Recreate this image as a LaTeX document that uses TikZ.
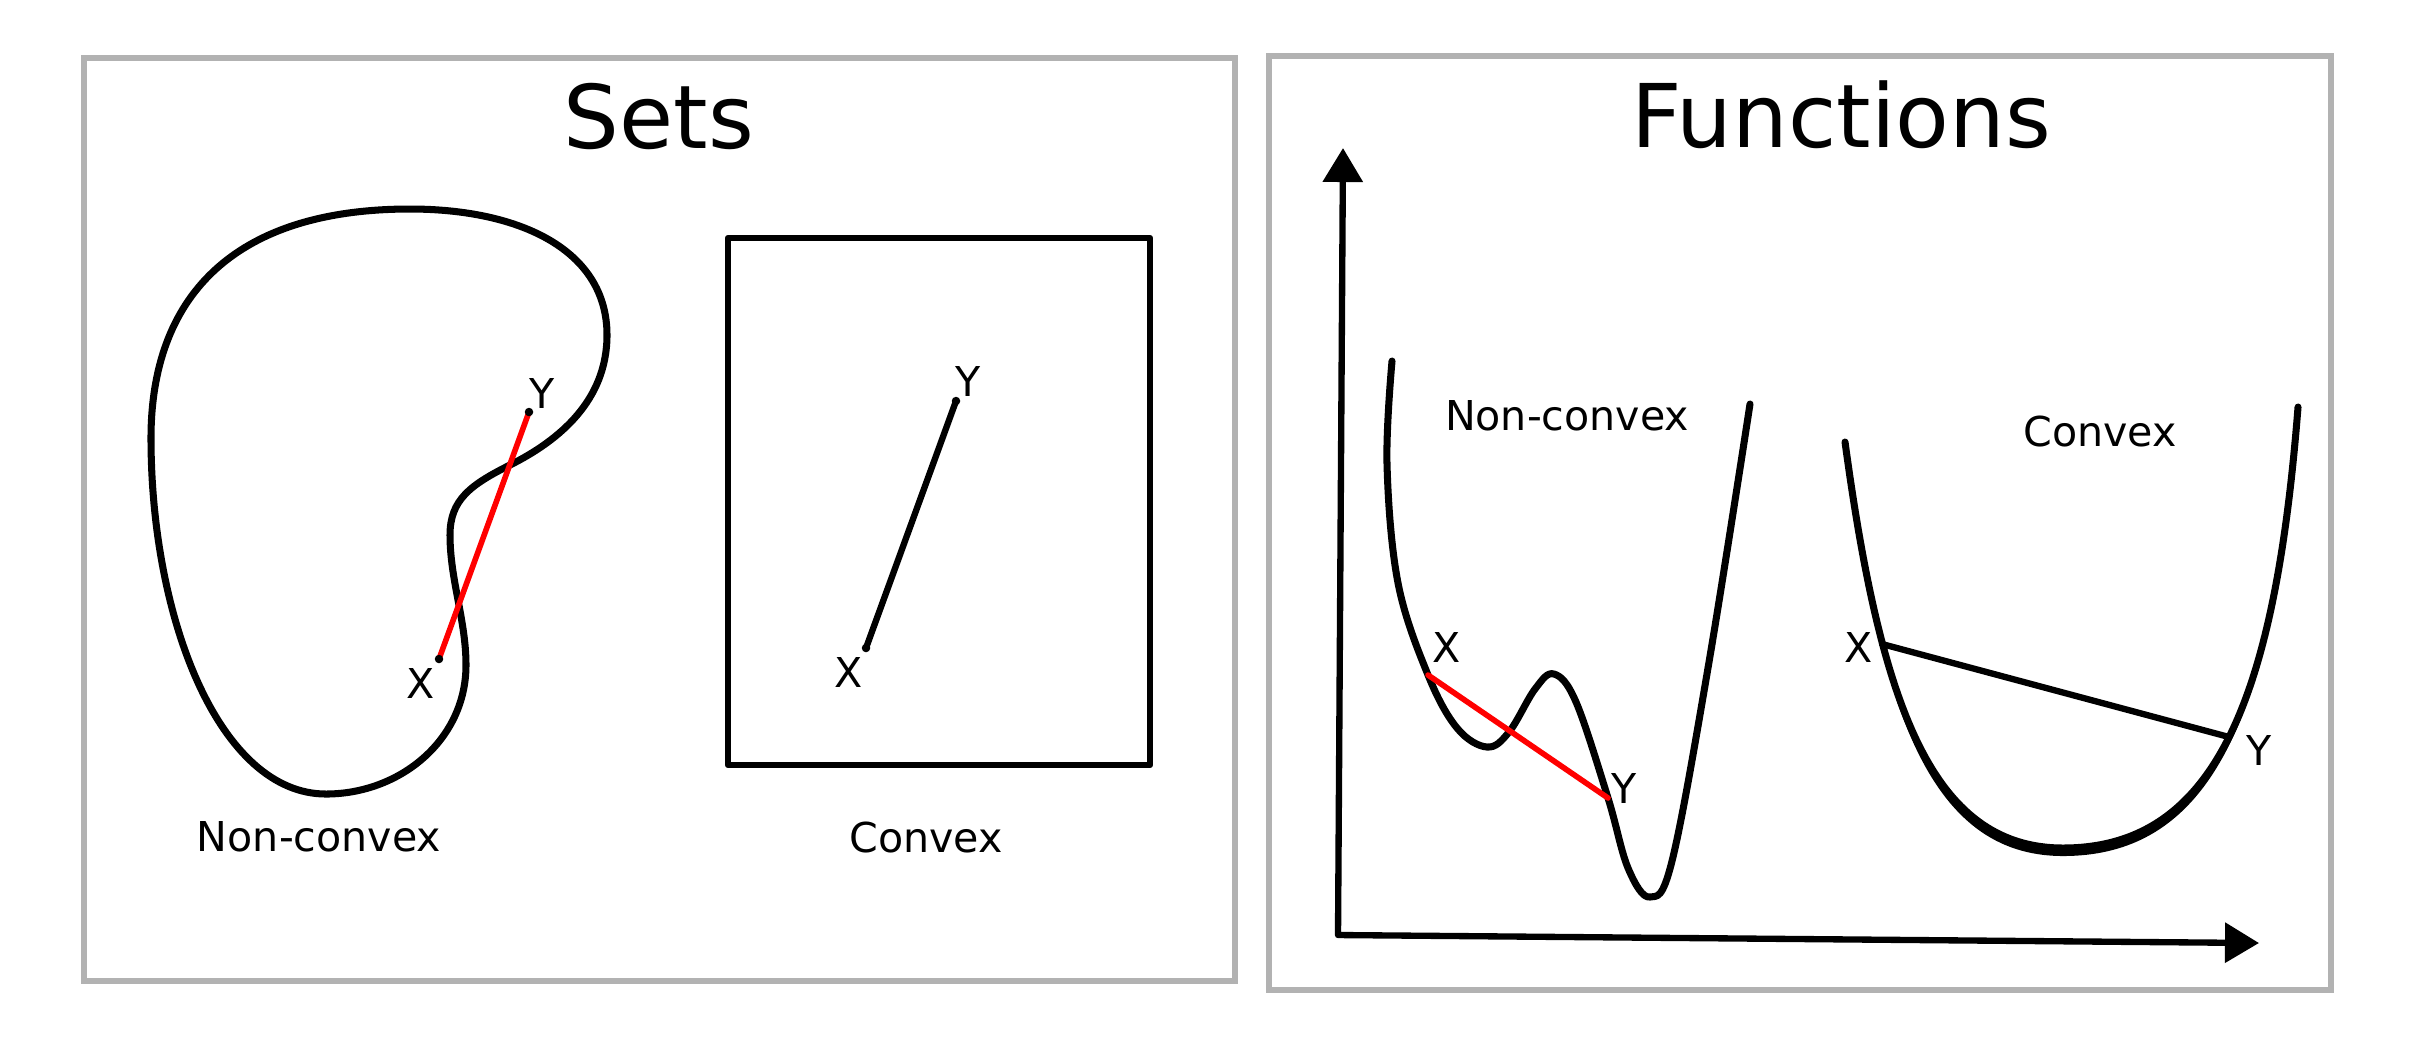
\documentclass[tikz,border=0pt]{standalone}
\usepackage{fontspec}
\setmainfont{DejaVu Sans}
\usetikzlibrary{arrows.meta}
\definecolor{PanelFrame}{gray}{0.70}
\definecolor{ChordRed}{RGB}{255,0,0}
\tikzset{
    convex/diagram/.style={
        x=0.01cm, y=-0.01cm,
        line cap=round,
        line join=round,
        every node/.style={inner sep=0pt, outer sep=0pt}
    },
    convex/panel/.style={draw=PanelFrame, line width=1.7pt, line cap=butt, line join=miter},
    convex/curve/.style={draw=black, line width=2.0pt},
    convex/frame/.style={draw=black, line width=1.8pt},
    convex/segment/.style={draw=black, line width=1.8pt},
    convex/chord/.style={draw=ChordRed, line width=1.6pt},
    convex/axis/.style={
        draw=black, line width=1.8pt,
        {Triangle[length=3.4mm, width=3.9mm]}-{Triangle[length=3.4mm, width=3.9mm]}
    },
    convex/point/.style={circle, fill=black, draw=none, minimum size=0.85mm},
    convex/title/.style={font=\fontsize{25}{30}\selectfont},
    convex/label/.style={font=\fontsize{11.7}{14}\selectfont}
}

\begin{document}
\begin{tikzpicture}[convex/diagram]
    \useasboundingbox (0,0) rectangle (2413,1041);
    % panels
    \draw[convex/panel] (84,58) rectangle (1235,981);
    \draw[convex/panel] (1269,56) rectangle (2331,990);
    \node[convex/title] (setsTitle) at (659,116) {Sets};
    \node[convex/title] (funcTitle) at (1841,115) {Functions};
    % sets
    \draw[convex/curve] (410,209)
        .. controls (520,209) and (607,250) .. (607,335)
        .. controls (607,400) and (560,440) .. (510,465)
        .. controls (470,485) and (450,500) .. (450,535)
        .. controls (450,580) and (466,620) .. (466,665)
        .. controls (466,740) and (400,794) .. (326,794)
        .. controls (220,794) and (151,620) .. (151,438)
        .. controls (151,300) and (230,209) .. (410,209) -- cycle;
    \coordinate (blobX) at (439,659);
    \coordinate (blobY) at (529,412);
    \draw[convex/chord] (blobX) -- (blobY);
    \node[convex/point] (blobXdot) at (blobX) {};
    \node[convex/point] (blobYdot) at (blobY) {};
    \node[convex/label] (blobXlabel) at (421,683) {X};
    \node[convex/label] (blobYlabel) at (542,393) {Y};
    \node[convex/label] (setNonconvex) at (319,837) {Non-convex};
    \draw[convex/frame] (728,238) rectangle (1150,765);
    \coordinate (boxX) at (866,648);
    \coordinate (boxY) at (956,401);
    \draw[convex/segment] (boxX) -- (boxY);
    \node[convex/point] (boxXdot) at (boxX) {};
    \node[convex/point] (boxYdot) at (boxY) {};
    \node[convex/label] (boxXlabel) at (849,672) {X};
    \node[convex/label] (boxYlabel) at (968,381) {Y};
    \node[convex/label] (setConvex) at (926,837) {Convex};
    % functions
    \coordinate (yTop) at (1343,148);
    \coordinate (origin) at (1338,935);
    \coordinate (xEnd) at (2259,943);
    \draw[convex/axis] (yTop) -- (origin) -- (xEnd);
    \draw[convex/curve] plot[smooth, tension=0.6] coordinates {
        (1392,361) (1387,464) (1398,583) (1428,675) (1457,728) (1487,747)
        (1509,732) (1535,689) (1554,674) (1576,702) (1608,798) (1628,868)
        (1650,897) (1672,861) (1709,662) (1750,404)};
    \coordinate (wavyX) at (1428,675);
    \coordinate (wavyY) at (1608,798);
    \draw[convex/chord] (wavyX) -- (wavyY);
    \node[convex/label] (wavyXlabel) at (1447,647) {X};
    \node[convex/label] (wavyYlabel) at (1624,788) {Y};
    \node[convex/label] (funcNonconvex) at (1567,416) {Non-convex};
    \fill (1845,442)
        .. controls (1880,700) and (1930,848) .. (2063,848)
        .. controls (2215,848) and (2275,700) .. (2298,407)
        .. controls (2276,707) and (2216,856) .. (2063,856)
        .. controls (1928,856) and (1878,706) .. (1845,442) -- cycle;
    \draw[convex/curve] (1845,442)
        .. controls (1880,700) and (1930,848) .. (2063,848)
        .. controls (2215,848) and (2275,700) .. (2298,407);
    \coordinate (bowlX) at (1882,644);
    \coordinate (bowlY) at (2229,737);
    \draw[convex/segment] (bowlX) -- (bowlY);
    \node[convex/label] (bowlXlabel) at (1859,647) {X};
    \node[convex/label] (bowlYlabel) at (2259,750) {Y};
    \node[convex/label] (funcConvex) at (2100,432) {Convex};
\end{tikzpicture}
\end{document}
